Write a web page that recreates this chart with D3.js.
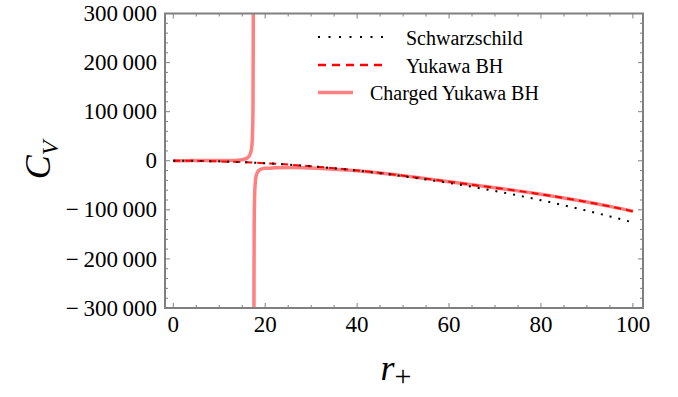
<!DOCTYPE html>
<html>
<head>
<meta charset="utf-8">
<script src="https://cdn.jsdelivr.net/npm/d3@7"></script>
<style>
  body { margin: 0; background: #fff; }
</style>
</head>
<body>
<svg id="chart" width="678" height="397"></svg>
<script>
// values
const rSchw = [0, 5, 10, 15, 20, 25, 30, 35, 40, 45, 50, 55, 60, 65, 70, 75, 80, 85, 90, 95, 100];
const cvSchw = [0, -314, -1257, -2827, -5027, -7854, -11310, -15394, -20106, -25447, -31416,
  -38013, -45239, -53093, -61575, -70686, -80425, -90792, -101788, -113411, -125664];

const rYuk = rSchw;
const cvYuk = [0, -314, -1250, -2810, -4980, -7760, -11140, -15140, -19700, -24800, -30470,
  -36490, -42750, -48850, -55060, -61400, -68360, -75810, -83980, -93000, -103040];

// charged Yukawa BH, branch below the pole
const rChgA = [0, 5, 10, 12, 14, 15, 16, 16.5, 16.9, 17.1, 17.2, 17.3, 17.35, 17.4, 17.43];
const cvChgA = [0, 650, 370, 410, 1050, 2130, 5120, 9320, 18400, 30900, 44700, 76900, 117200, 238200, 400000];
// branch above the pole
const rChgB = [17.54, 17.56, 17.6, 17.7, 17.8, 18, 18.5, 19, 20, 22, 25, 30, 35, 40, 45, 50,
  55, 60, 65, 70, 75, 80, 85, 90, 95, 100];
const cvChgB = [-400000, -250000, -140000, -72000, -50000, -32000, -21000, -17500, -15500, -14500,
  -14000, -15000, -17300, -20600, -25000, -30300, -36400, -42750, -48850, -55060, -61400,
  -68360, -75810, -83980, -93000, -103040];

const yTicks = [-300000, -200000, -100000, 0, 100000, 200000, 300000];
const xTicks = [0, 20, 40, 60, 80, 100];

const serif = '"Liberation Serif"';
const svg = d3.select("#chart");
const frame = {left: 165, right: 643, top: 13.5, bottom: 308};

const x = d3.scaleLinear().domain([-1.8, 102.2]).range([frame.left, frame.right]);
const y = d3.scaleLinear().domain([-300000, 300000]).range([frame.bottom, frame.top]);

const fmt = d3.formatLocale({decimal: ".", thousands: "\u2009", grouping: [3], currency: ["", ""], minus: "\u2212\u2009"}).format(",d");

svg.append("clipPath").attr("id", "clip")
  .append("rect")
  .attr("x", frame.left).attr("y", frame.top)
  .attr("width", frame.right - frame.left).attr("height", frame.bottom - frame.top);

const line = d3.line()
  .x(d => x(d[0]))
  .y(d => y(d[1]))
  .curve(d3.curveMonotoneX);

const plot = svg.append("g").attr("clip-path", "url(#clip)");

const pink = "#ff8080";

plot.append("path")
  .attr("d", line(d3.zip(rChgA, cvChgA)))
  .attr("fill", "none").attr("stroke", pink).attr("stroke-width", 3.5);
plot.append("path")
  .attr("d", line(d3.zip(rChgB, cvChgB)))
  .attr("fill", "none").attr("stroke", pink).attr("stroke-width", 3.5);

plot.append("path")
  .attr("d", line(d3.zip(rYuk, cvYuk)))
  .attr("fill", "none").attr("stroke", "#ff0000").attr("stroke-width", 2)
  .attr("stroke-dasharray", "7,5");

plot.append("path")
  .attr("d", line(d3.zip(rSchw, cvSchw)))
  .attr("fill", "none").attr("stroke", "#000").attr("stroke-width", 2)
  .attr("stroke-dasharray", "2,7");

// frame + ticks
const grey = "#808080";
svg.append("rect")
  .attr("x", frame.left).attr("y", frame.top)
  .attr("width", frame.right - frame.left).attr("height", frame.bottom - frame.top)
  .attr("fill", "none").attr("stroke", grey).attr("stroke-width", 2);

const ticksG = svg.append("g").attr("stroke", grey).attr("stroke-width", 1);
const xMinor = d3.range(0, 101, 5);
xMinor.forEach(v => {
  const len = v % 20 === 0 ? 5 : 3;
  ticksG.append("line").attr("x1", x(v)).attr("x2", x(v)).attr("y1", frame.bottom).attr("y2", frame.bottom - len);
  ticksG.append("line").attr("x1", x(v)).attr("x2", x(v)).attr("y1", frame.top).attr("y2", frame.top + len);
});
const yMinor = d3.range(-300000, 300001, 20000);
yMinor.forEach(v => {
  const len = v % 100000 === 0 ? 5 : 3;
  ticksG.append("line").attr("x1", frame.left).attr("x2", frame.left + len).attr("y1", y(v)).attr("y2", y(v));
  ticksG.append("line").attr("x1", frame.right).attr("x2", frame.right - len).attr("y1", y(v)).attr("y2", y(v));
});

svg.append("g").selectAll("text").data(yTicks).join("text")
  .attr("x", 157).attr("y", d => y(d)).attr("dy", "0.33em")
  .attr("text-anchor", "end").attr("font-size", 23)
  .style("font-family", serif)
  .text(d => fmt(d));

svg.append("g").selectAll("text").data(xTicks).join("text")
  .attr("x", d => x(d)).attr("y", 332)
  .attr("text-anchor", "middle").attr("font-size", 23)
  .style("font-family", serif)
  .text(d => d);

// axis titles
svg.append("text")
  .attr("transform", "translate(50,160) rotate(-90)")
  .attr("text-anchor", "middle").attr("font-size", 36).attr("font-style", "italic")
  .style("font-family", serif)
  .html('C<tspan font-size="24" dy="8">V</tspan>');

svg.append("text")
  .attr("x", 396).attr("y", 380)
  .attr("text-anchor", "middle").attr("font-size", 36).attr("font-style", "italic")
  .style("font-family", serif)
  .html('r<tspan font-size="30" font-style="normal" dy="6">+</tspan>');

// legend
const legend = svg.append("g");
legend.append("line").attr("x1", 318).attr("x2", 384).attr("y1", 37).attr("y2", 37)
  .attr("stroke", "#000").attr("stroke-width", 2).attr("stroke-dasharray", "2,8.5");
legend.append("line").attr("x1", 318).attr("x2", 384).attr("y1", 65).attr("y2", 65)
  .attr("stroke", "#ff0000").attr("stroke-width", 2.5).attr("stroke-dasharray", "8,6");
legend.append("line").attr("x1", 318).attr("x2", 353).attr("y1", 92.5).attr("y2", 92.5)
  .attr("stroke", pink).attr("stroke-width", 3.5);

const legendText = [["Schwarzschild", 406, 45], ["Yukawa BH", 406, 73], ["Charged Yukawa BH", 370, 100]];
legend.selectAll("text").data(legendText).join("text")
  .attr("x", d => d[1]).attr("y", d => d[2])
  .attr("font-size", 20)
  .style("font-family", serif)
  .text(d => d[0]);
</script>
</body>
</html>
